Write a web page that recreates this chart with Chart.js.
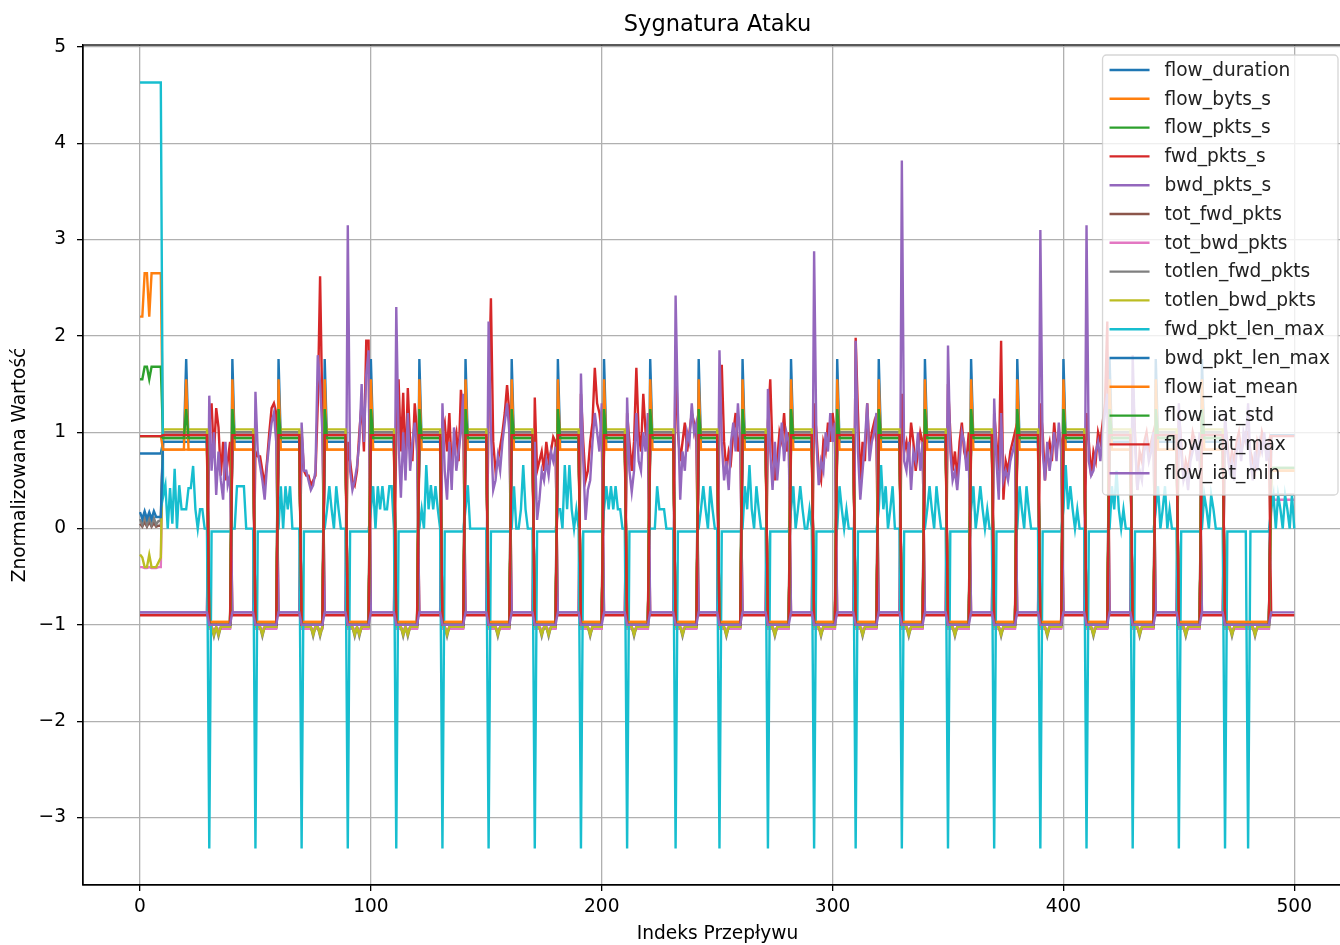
<!DOCTYPE html>
<html>
<head>
<meta charset="utf-8">
<script src="https://cdn.jsdelivr.net/npm/chart.js@4.4.0/dist/chart.umd.min.js"></script>
<style>
  html, body { margin: 0; padding: 0; background: #fff; overflow: hidden; }
  canvas { display: block; }
</style>
</head>
<body>
<canvas id="chart" width="1356" height="945"></canvas>
<script>
// --- datos ---
var etiquetas = ["flow_duration", "flow_byts_s", "flow_pkts_s", "fwd_pkts_s", "bwd_pkts_s",
  "tot_fwd_pkts", "tot_bwd_pkts", "totlen_fwd_pkts", "totlen_bwd_pkts", "fwd_pkt_len_max",
  "bwd_pkt_len_max", "flow_iat_mean", "flow_iat_std", "flow_iat_max", "flow_iat_min"];

var xTicks = [0, 100, 200, 300, 400, 500];
var yTicks = [-3, -2, -1, 0, 1, 2, 3, 4, 5];

var lastIndex = 500;
var endStart = 490;
// bloques "bajos" (10 filas cada uno)
var lowStarts = [30, 50, 70, 90, 111, 131, 151, 171, 191, 211, 232, 251, 272, 292, 310, 330, 350, 370, 390, 410, 430, 450, 470, 480];
var lowLen = 10;
var spikeIdx = [20, 40, 60, 80, 100, 121, 141, 161, 181, 201, 221, 242, 261, 282, 302, 320, 340, 360, 380, 400, 420, 440, 460];
var dipIdx = [32, 34, 53, 75, 78, 93, 95, 114, 116, 133, 155, 174, 177, 195, 214, 235, 254, 275, 295, 313, 333, 353, 373, 393, 413, 433, 453, 473, 483];

// primeras 10 filas
var startDuration = [0.78, 0.78, 0.78, 0.78, 0.78, 0.78, 0.78, 0.78, 0.78, 0.78];
var startByts = [2.2, 2.2, 2.65, 2.65, 2.2, 2.65, 2.65, 2.65, 2.65, 2.65];
var startPkts = [1.55, 1.55, 1.68, 1.68, 1.55, 1.68, 1.68, 1.68, 1.68, 1.68];
var startFwdRate = [-0.9, -0.9, -0.9, -0.9, -0.9, -0.9, -0.9, -0.9, -0.9, -0.9];
var startBwdRate = [-0.87, -0.87, -0.87, -0.87, -0.87, -0.87, -0.87, -0.87, -0.87, -0.87];
var startTotFwd = [0.05, 0.02, 0.07, 0.02, 0.07, 0.02, 0.06, 0.02, 0.03, 0.03];
var startTotBwd = [-0.4, -0.4, -0.41, -0.41, -0.4, -0.41, -0.41, -0.41, -0.4, -0.4];
var startLenFwd = [0.1, 0.04, 0.13, 0.04, 0.12, 0.04, 0.11, 0.04, 0.08, 0.08];
var startLenBwd = [-0.27, -0.3, -0.4, -0.4, -0.27, -0.4, -0.4, -0.4, -0.35, -0.3];
var startPktMax = [4.63, 4.63, 4.63, 4.63, 4.63, 4.63, 4.63, 4.63, 4.63, 4.63];
var startBwdLen = [0.17, 0.1, 0.18, 0.1, 0.17, 0.1, 0.18, 0.12, 0.12, 0.12];
var startIatMean = [0.96, 0.96, 0.96, 0.96, 0.96, 0.96, 0.96, 0.96, 0.96, 0.96];
var startIatStd = [0.96, 0.96, 0.96, 0.96, 0.96, 0.96, 0.96, 0.96, 0.96, 0.96];
var startIatMax = [0.96, 0.96, 0.96, 0.96, 0.96, 0.96, 0.96, 0.96, 0.96, 0.96];
var startIatMin = [-0.87, -0.87, -0.87, -0.87, -0.87, -0.87, -0.87, -0.87, -0.87, -0.87];

// niveles por serie (null = ver arrays de ruido)
var highLevels = [0.90, 0.82, 0.94, -0.90, -0.87, 1.0, 1.0, 1.0, 1.03, null, 0.90, 0.82, 0.94, 0.97, -0.87];
var lowLevels = [-1.0, -0.97, -1.0, null, null, -1.03, -1.04, -1.02, -1.02, -0.03, -1.0, -0.97, -1.0, -1.0, -1.0];
var endLevels = [0.97, 0.6, 0.63, -0.9, 0.35, 0.35, 0.3, 0.35, 0.6, null, 0.97, 0.6, 0.63, 0.96, -0.87];
var spikeLevels = [1.76, null, null, null, null, null, null, null, null, null, null, 1.55, 1.24, null, null];
var dipLevels = [null, null, null, null, null, -1.08, null, -1.12, -1.1, null, null, null, null, null, null];
var cyanDip = -3.32;

// fwd_pkts_s en bloques bajos
var fwdLow = [
  [1.1, 1.3, 0.75, 1.25, 1.05, 0.55, 0.9, 0.5, 0.7, 0.9],
  [0.8, 0.75, 0.75, 0.6, 0.45, 0.7, 1.0, 1.25, 1.3, 1.2],
  [1.0, 0.6, 0.55, 0.55, 0.45, 0.5, 0.55, 1.3, 2.62, 1.2],
  [0.9, 0.7, 0.5, 0.45, 0.6, 1.0, 1.3, 0.8, 1.95, 1.95],
  [1.0, 1.55, 0.8, 1.41, 0.6, 1.46, 0.9, 0.7, 1.3, 1.0],
  [1.0, 1.1, 0.8, 1.2, 0.6, 0.9, 1.0, 0.7, 1.44, 1.2],
  [1.3, 2.39, 0.9, 0.6, 0.7, 0.85, 1.0, 1.2, 1.49, 1.2],
  [1.36, 0.6, 0.7, 0.8, 0.6, 0.9, 0.7, 0.8, 0.95, 0.9],
  [1.4, 0.9, 0.5, 0.6, 0.9, 1.1, 1.67, 1.3, 1.2, 1.0],
  [1.2, 0.9, 0.6, 0.9, 1.67, 1.0, 0.8, 1.4, 1.0, 0.9],
  [1.9, 1.0, 0.7, 0.9, 1.1, 0.8, 1.0, 1.2, 1.1, 0.9],
  [1.2, 1.7, 0.9, 0.6, 0.8, 0.7, 1.0, 1.2, 0.8, 1.0],
  [1.1, 1.55, 0.8, 0.5, 0.7, 1.0, 0.9, 1.2, 0.8, 1.0],
  [1.3, 1.0, 0.6, 0.5, 0.9, 0.8, 1.1, 0.9, 1.2, 1.0],
  [1.98, 1.2, 0.5, 0.9, 0.7, 1.3, 0.8, 1.0, 1.1, 0.9],
  [1.4, 0.8, 0.9, 0.7, 1.1, 0.9, 0.6, 0.8, 1.0, 0.9],
  [1.5, 1.0, 0.6, 0.8, 0.5, 0.9, 1.1, 0.8, 0.7, 1.0],
  [1.2, 0.9, 0.6, 1.95, 0.3, 0.7, 0.6, 0.8, 0.9, 1.0],
  [1.3, 1.0, 0.5, 0.8, 0.9, 0.7, 1.1, 0.8, 1.0, 0.9],
  [1.2, 0.9, 0.55, 0.8, 0.7, 1.0, 0.9, 1.1, 1.3, 2.15],
  [1.5, 1.0, 0.4, 0.8, 0.7, 0.9, 1.0, 0.8, 0.9, 1.0],
  [1.2, 0.9, 0.5, 0.7, 0.6, 0.8, 1.0, 0.9, 0.8, 0.9],
  [1.1, 0.9, 0.6, 0.8, 0.7, 0.9, 1.0, 0.8, 0.9, 1.0],
  [1.0, 0.8, 0.7, 0.6, 0.9, 0.8, 1.0, 0.9, 0.8, 0.9]
];

// bwd_pkts_s en bloques bajos
var bwdLow = [
  [1.38, 0.6, 1.0, 0.35, 0.8, 0.5, 0.3, 0.9, 0.45, 0.55],
  [1.42, 0.8, 0.65, 0.5, 0.3, 0.65, 0.9, 1.1, 1.2, 0.9],
  [1.1, 0.6, 0.6, 0.5, 0.4, 0.45, 0.6, 1.8, 1.5, 1.0],
  [3.15, 0.6, 0.4, 0.5, 0.65, 0.9, 1.5, 0.9, 1.6, 1.85],
  [2.3, 0.9, 0.32, 1.0, 0.5, 1.2, 0.6, 0.9, 1.1, 0.8],
  [1.3, 0.6, 0.3, 0.9, 0.4, 1.05, 0.6, 0.8, 1.0, 1.4],
  [2.15, 1.0, 0.4, 0.5, 0.75, 0.6, 0.9, 1.1, 1.3, 1.0],
  [0.9, 0.09, 0.3, 0.6, 0.5, 0.7, 0.55, 0.8, 0.7, 0.85],
  [1.61, 0.7, 0.09, 0.4, 0.5, 0.9, 1.2, 1.0, 0.8, 1.3],
  [1.36, 0.6, 0.38, 0.6, 1.2, 0.7, 0.6, 1.0, 0.8, 1.2],
  [2.42, 1.2, 0.3, 0.8, 0.6, 1.0, 0.9, 1.3, 1.0, 1.1],
  [1.85, 0.9, 0.5, 0.7, 0.4, 0.9, 1.1, 0.8, 1.3, 0.9],
  [1.45, 0.8, 0.4, 0.9, 0.5, 0.8, 1.1, 0.7, 1.0, 0.9],
  [2.88, 0.9, 0.45, 0.7, 0.6, 1.0, 0.8, 1.2, 0.9, 1.1],
  [1.95, 0.8, 0.3, 0.6, 0.9, 1.3, 0.7, 0.9, 1.0, 1.2],
  [3.82, 0.7, 0.6, 0.9, 0.4, 0.8, 0.7, 1.0, 0.6, 0.9],
  [1.9, 0.8, 0.5, 0.6, 0.4, 0.7, 1.0, 0.9, 0.6, 0.8],
  [1.35, 0.7, 0.3, 1.2, 0.5, 0.6, 0.5, 0.7, 0.8, 0.9],
  [3.1, 0.8, 0.5, 0.9, 0.6, 0.8, 1.0, 0.7, 1.1, 0.8],
  [3.15, 0.7, 0.55, 0.6, 0.8, 0.9, 0.7, 1.0, 1.2, 1.4],
  [1.8, 0.9, 0.4, 0.6, 0.5, 0.8, 0.9, 0.7, 0.8, 1.0],
  [1.3, 0.8, 0.5, 0.6, 0.4, 0.7, 0.8, 0.9, 0.7, 1.0],
  [1.2, 0.8, 0.6, 0.7, 0.5, 0.8, 0.9, 0.7, 1.0, 0.9],
  [1.3, 0.7, 0.5, 0.8, 0.6, 0.9, 0.8, 1.0, 0.7, 0.9]
];

// fwd_pkt_len_max en bloques altos (en orden)
var cyanHigh = [
  [0.33, 0.45, 0.0, 0.42, 0.05, 0.62, 0.0, 0.45, 0.2, 0.2, 0.2, 0.42, 0.42, 0.65, 0.2, 0.0, 0.2, 0.2, 0.0, 0.0],
  [0.0, 0.0, 0.44, 0.44, 0.44, 0.44, 0.0, 0.0, 0.0, 0.0],
  [0.0, 0.44, 0.0, 0.44, 0.2, 0.44, 0.0, 0.0, 0.0, 0.0],
  [0.0, 0.2, 0.44, 0.2, 0.0, 0.44, 0.2, 0.0, 0.0, 0.0],
  [0.2, 0.44, 0.0, 0.44, 0.2, 0.44, 0.2, 0.2, 0.44, 0.44, 0.0],
  [0.0, 0.2, 0.0, 0.66, 0.2, 0.45, 0.2, 0.44, 0.2, 0.0],
  [0.2, 0.45, 0.0, 0.0, 0.0, 0.0, 0.0, 0.0, 0.0, 0.0],
  [0.0, 0.44, 0.0, 0.0, 0.2, 0.66, 0.2, 0.0, 0.0, 0.0],
  [0.2, 0.2, 0.0, 0.66, 0.2, 0.66, 0.2, 0.0, 0.2, 0.0],
  [0.2, 0.44, 0.2, 0.44, 0.2, 0.44, 0.2, 0.2, 0.0, 0.0],
  [0.0, 0.0, 0.0, 0.44, 0.2, 0.2, 0.2, 0.0, 0.0, 0.0, 0.0],
  [0.0, 0.2, 0.44, 0.2, 0.0, 0.44, 0.2, 0.0, 0.0],
  [0.0, 0.44, 0.2, 0.66, 0.2, 0.0, 0.44, 0.2, 0.0, 0.0, 0.0],
  [0.2, 0.44, 0.0, 0.2, 0.44, 0.2, 0.0, 0.0, 0.2, 0.0],
  [0.0, 0.44, 0.2, 0.0, 0.2, 0.0, 0.0, 0.0],
  [0.2, 0.66, 0.2, 0.44, 0.0, 0.2, 0.44, 0.0, 0.0, 0.0],
  [0.0, 0.2, 0.44, 0.2, 0.0, 0.44, 0.2, 0.0, 0.0, 0.0],
  [0.2, 0.44, 0.0, 0.2, 0.44, 0.2, 0.0, 0.2, 0.0, 0.0],
  [0.0, 0.44, 0.2, 0.0, 0.44, 0.2, 0.0, 0.0, 0.0, 0.0],
  [0.2, 0.66, 0.2, 0.44, 0.2, 0.0, 0.2, 0.0, 0.0, 0.0],
  [0.0, 0.44, 0.2, 0.6, 0.2, 0.0, 0.2, 0.0, 0.0, 0.0],
  [0.2, 0.44, 0.0, 0.2, 0.44, 0.0, 0.2, 0.0, 0.0, 0.0],
  [0.0, 0.35, 0.2, 0.0, 0.35, 0.2, 0.0, 0.0, 0.0, 0.0],
  [0.2, 0.35, 0.0, 0.35, 0.2, 0.0, 0.35, 0.2, 0.0, 0.35, 0.0]
];

var startValues = [startDuration, startByts, startPkts, startFwdRate, startBwdRate, startTotFwd,
  startTotBwd, startLenFwd, startLenBwd, startPktMax, startBwdLen, startIatMean, startIatStd,
  startIatMax, startIatMin];

var colores = ["#1f77b4", "#ff7f0e", "#2ca02c", "#d62728", "#9467bd", "#8c564b", "#e377c2",
  "#7f7f7f", "#bcbd22", "#17becf", "#1f77b4", "#ff7f0e", "#2ca02c", "#d62728", "#9467bd"];

// --- armar cada serie a partir de los bloques ---
function isLow(i) {
  for (var b = 0; b < lowStarts.length; b++) {
    if (i >= lowStarts[b] && i < lowStarts[b] + lowLen) return true;
  }
  return false;
}

function highBlocks() {
  var blocks = [], cur = null;
  for (var i = startValues[0].length; i <= lastIndex; i++) {
    if (!isLow(i)) {
      if (cur === null) { cur = [i]; blocks.push(cur); } else cur.push(i);
    } else cur = null;
  }
  return blocks;
}

function serie(k) {
  var out = [], i;
  for (i = 0; i <= lastIndex; i++) out.push(highLevels[k]);
  for (i = 0; i < startValues[k].length; i++) out[i] = startValues[k][i];
  for (i = endStart; i <= lastIndex; i++) out[i] = endLevels[k];

  lowStarts.forEach(function(s, b) {
    for (var j = 0; j < lowLen; j++) {
      if (k === 3) out[s + j] = fwdLow[b][j];
      else if (k === 4) out[s + j] = bwdLow[b][j];
      else if (k === 9) out[s + j] = (j === 0) ? cyanDip : lowLevels[k];
      else out[s + j] = lowLevels[k];
    }
  });

  if (k === 9) {
    highBlocks().forEach(function(blk, b) {
      var vals = cyanHigh[b] || [0];
      blk.forEach(function(idx, j) {
        out[idx] = vals[Math.min(j, vals.length - 1)];
      });
    });
  }
  if (spikeLevels[k] !== null) {
    spikeIdx.forEach(function(idx) { out[idx] = spikeLevels[k]; });
  }
  if (dipLevels[k] !== null) {
    dipIdx.forEach(function(idx) { out[idx] = dipLevels[k]; });
  }
  return out.map(function(v, idx) { return { x: idx, y: v }; });
}

var datasets = etiquetas.map(function(nombre, k) {
  return {
    label: nombre,
    data: serie(k),
    borderColor: colores[k],
    backgroundColor: colores[k],
    borderWidth: 2.4,
    pointRadius: 0,
    tension: 0,
    fill: false,
    order: etiquetas.length - 1 - k
  };
});

var fuente = '"DejaVu Sans", sans-serif';

// titulo, marco y leyenda estilo matplotlib
var extras = {
  id: 'extras',
  afterDraw: function(chart) {
    var ctx = chart.ctx, area = chart.chartArea;
    ctx.save();
    ctx.strokeStyle = '#000';
    ctx.lineWidth = 1.3;
    ctx.strokeRect(area.left, area.top, area.right - area.left, area.bottom - area.top);

    ctx.fillStyle = '#000';
    ctx.font = '22.5px ' + fuente;
    ctx.textAlign = 'center';
    ctx.textBaseline = 'middle';
    ctx.fillText('Sygnatura Ataku', (area.left + area.right) / 2, 25);

    var sets = chart.data.datasets;
    var fs = 18.6, fila = 28.8;
    ctx.font = fs + 'px ' + fuente;
    var ancho = 0;
    sets.forEach(function(d) { ancho = Math.max(ancho, ctx.measureText(d.label).width); });
    var w = 62 + ancho + 8;
    var h = sets.length * fila + 8;
    var x0 = area.right - 14 - w, y0 = area.top + 10;

    ctx.beginPath();
    if (ctx.roundRect) ctx.roundRect(x0, y0, w, h, 4); else ctx.rect(x0, y0, w, h);
    ctx.fillStyle = 'rgba(255,255,255,0.8)';
    ctx.fill();
    ctx.strokeStyle = 'rgba(204,204,204,0.8)';
    ctx.lineWidth = 1.3;
    ctx.stroke();

    ctx.textAlign = 'left';
    ctx.textBaseline = 'middle';
    sets.forEach(function(d, i) {
      var yy = y0 + 15 + i * fila;
      ctx.strokeStyle = d.borderColor;
      ctx.lineWidth = 2.4;
      ctx.beginPath();
      ctx.moveTo(x0 + 7, yy);
      ctx.lineTo(x0 + 47, yy);
      ctx.stroke();
      ctx.fillStyle = '#222';
      ctx.fillText(d.label, x0 + 62, yy + 1);
    });
    ctx.restore();
  }
};

var ctx = document.getElementById('chart').getContext('2d');
window.grafico = new Chart(ctx, {
  type: 'line',
  data: { datasets: datasets },
  options: {
    responsive: false,
    animation: false,
    devicePixelRatio: 1,
    events: [],
    layout: { padding: { top: 45, right: 4, left: 0, bottom: 0 } },
    plugins: {
      legend: { display: false },
      tooltip: { enabled: false },
      title: { display: false }
    },
    scales: {
      x: {
        type: 'linear',
        min: -24.7,
        max: 525,
        afterBuildTicks: function(scale) {
          scale.ticks = xTicks.map(function(v) { return { value: v }; });
        },
        afterFit: function(scale) { scale.height = 60; },
        ticks: {
          color: '#000',
          font: { family: fuente, size: 18.6 },
          padding: 5,
          maxRotation: 0,
          callback: function(v) { return v; }
        },
        grid: { color: '#b0b0b0', lineWidth: 1.3, tickColor: '#000', tickLength: 6 },
        border: { color: '#000', width: 1.3 },
        title: {
          display: true,
          text: 'Indeks Przepływu',
          color: '#000',
          font: { family: fuente, size: 18.6 },
          padding: { top: 0, bottom: 0 }
        }
      },
      y: {
        type: 'linear',
        min: -3.7,
        max: 5.02,
        afterBuildTicks: function(scale) {
          scale.ticks = yTicks.map(function(v) { return { value: v }; });
        },
        afterFit: function(scale) { scale.width = 83; },
        ticks: {
          color: '#000',
          font: { family: fuente, size: 18.6 },
          padding: 11,
          callback: function(v) { return v < 0 ? '\u2212' + Math.abs(v) : String(v); }
        },
        grid: { color: '#b0b0b0', lineWidth: 1.3, tickColor: '#000', tickLength: 6 },
        border: { color: '#000', width: 1.3 },
        title: {
          display: true,
          text: 'Znormalizowana Wartość',
          color: '#000',
          font: { family: fuente, size: 18.6 },
          padding: { top: 9, bottom: 0 }
        }
      }
    }
  },
  plugins: [extras]
});
</script>
</body>
</html>
